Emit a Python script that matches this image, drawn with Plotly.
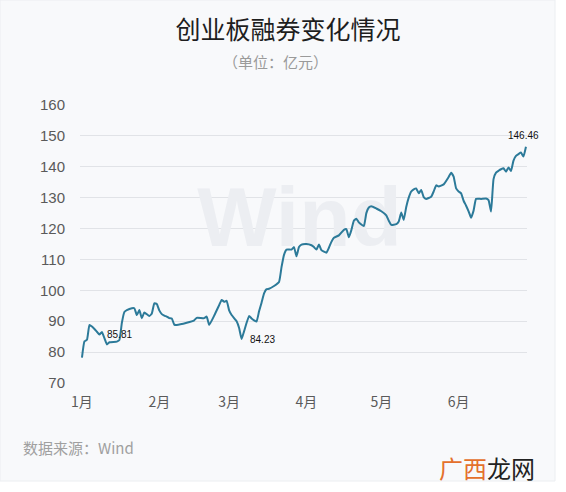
import plotly.graph_objects as go
import pandas as pd

# ---- data ----
dates = [
    "2021-01-01", "2021-01-02", "2021-01-03", "2021-01-04", "2021-01-05", "2021-01-06",
    "2021-01-07", "2021-01-08", "2021-01-09", "2021-01-10", "2021-01-11", "2021-01-12",
    "2021-01-15", "2021-01-16", "2021-01-17", "2021-01-18", "2021-01-19", "2021-01-21",
    "2021-01-22", "2021-01-23", "2021-01-24", "2021-01-25", "2021-01-26", "2021-01-28",
    "2021-01-29", "2021-01-30", "2021-01-31",
    "2021-02-01", "2021-02-02", "2021-02-03", "2021-02-04", "2021-02-05", "2021-02-06",
    "2021-02-07", "2021-02-08", "2021-02-12", "2021-02-15", "2021-02-16", "2021-02-19",
    "2021-02-20", "2021-02-21", "2021-02-23", "2021-02-25", "2021-02-26", "2021-02-27",
    "2021-02-28",
    "2021-03-01", "2021-03-02", "2021-03-04", "2021-03-05", "2021-03-06", "2021-03-07",
    "2021-03-09", "2021-03-10", "2021-03-11", "2021-03-12", "2021-03-13", "2021-03-14",
    "2021-03-15", "2021-03-16", "2021-03-17", "2021-03-19", "2021-03-21", "2021-03-22",
    "2021-03-23", "2021-03-24", "2021-03-26", "2021-03-27", "2021-03-28", "2021-03-29",
    "2021-03-30",
    "2021-04-01", "2021-04-03", "2021-04-04", "2021-04-05", "2021-04-06", "2021-04-07",
    "2021-04-08", "2021-04-09", "2021-04-10", "2021-04-11", "2021-04-12", "2021-04-14",
    "2021-04-16", "2021-04-17", "2021-04-18", "2021-04-19", "2021-04-20", "2021-04-21",
    "2021-04-22", "2021-04-24", "2021-04-25", "2021-04-26", "2021-04-27", "2021-04-29",
    "2021-05-01", "2021-05-03", "2021-05-04", "2021-05-05", "2021-05-07", "2021-05-08",
    "2021-05-09", "2021-05-10", "2021-05-11", "2021-05-12", "2021-05-13", "2021-05-14",
    "2021-05-15", "2021-05-16", "2021-05-17", "2021-05-18", "2021-05-19", "2021-05-21",
    "2021-05-22", "2021-05-23", "2021-05-24", "2021-05-26", "2021-05-28", "2021-05-29",
    "2021-05-30", "2021-05-31",
    "2021-06-01", "2021-06-02", "2021-06-03", "2021-06-04", "2021-06-05", "2021-06-06",
    "2021-06-07", "2021-06-08", "2021-06-10", "2021-06-12", "2021-06-13", "2021-06-14",
    "2021-06-15", "2021-06-16", "2021-06-17", "2021-06-18", "2021-06-19", "2021-06-20",
    "2021-06-21", "2021-06-22", "2021-06-23", "2021-06-24", "2021-06-25", "2021-06-26",
    "2021-06-27", "2021-06-28",
]
values = [
    78.2, 83.5, 84.0, 88.8, 88.3, 87.5,
    86.6, 85.7, 86.5, 84.5, 82.5, 83.2,
    83.4, 83.9, 89.5, 93.0, 93.6, 94.2,
    94.2, 92.0, 93.6, 91.0, 92.8, 91.7,
    92.5, 95.8, 95.6,
    93.5, 92.3, 91.8, 91.5, 91.0, 90.9,
    88.9, 88.8, 89.5, 90.3, 91.1, 91.0,
    91.5, 88.8, 91.8, 95.2, 96.9, 96.3,
    96.6,
    93.5, 92.0, 90.0, 87.8, 84.23, 86.8,
    91.7, 90.9, 90.3, 89.9, 93.2, 96.0,
    99.0, 100.4, 100.5, 101.4, 102.7, 107.5,
    111.5, 113.2, 113.2, 114.0, 111.0, 114.0,
    114.8,
    115.0, 114.6, 114.0, 113.2, 114.8, 113.0,
    112.5, 112.2, 113.8, 115.7, 117.0, 117.8,
    119.6, 119.8, 117.2, 119.5, 122.5, 123.2,
    122.0, 120.8, 125.0, 126.8, 127.2, 126.5,
    125.6, 124.3, 122.5, 121.2, 121.4, 122.3,
    125.2, 122.8, 127.0, 130.0, 132.0, 132.7,
    133.0, 131.4, 132.5, 130.2, 129.6, 130.3,
    132.0, 134.0, 133.6, 134.3, 136.7, 138.1,
    136.8, 133.0,
    132.0, 131.4, 129.0, 127.4, 125.6, 123.5,
    125.8, 129.6, 129.6, 129.7, 129.2, 125.5,
    136.0, 138.1, 138.7, 139.2, 139.5, 138.4,
    139.8, 138.6, 142.0, 143.5, 144.1, 144.6,
    143.3, 146.46,
]
month_ticks = ["2021-01-01", "2021-02-01", "2021-03-01", "2021-04-01", "2021-05-01", "2021-06-01"]
month_labels = ["1月", "2月", "3月", "4月", "5月", "6月"]
y_ticks = [70, 80, 90, 100, 110, 120, 130, 140, 150, 160]

# labelled points: (date, value, text)
label_points = [("2021-01-16", 83.9, "85.81"), ("2021-03-06", 84.23, "84.23"), ("2021-06-28", 146.46, "146.46")]

title_text = "创业板融券变化情况"
subtitle_text = "（单位：亿元）"
source_text = "数据来源：Wind"

LINE_COLOR = "#2c7a99"
CJK = "Noto Sans CJK SC, Liberation Sans, sans-serif"
LATIN = "Liberation Sans, Arial, sans-serif"

d = pd.to_datetime(dates)
x_start = d.min() - pd.Timedelta(hours=19)
x_end = d.max() + pd.Timedelta(hours=10)

fig = go.Figure()

# faint "Wind" watermark drawn under the line
wm_x = d.min() + (d.max() - d.min()) * 0.49
fig.add_trace(go.Scatter(
    x=[wm_x], y=[121.2], mode="text", text=["Wind"],
    textfont=dict(family=LATIN, size=84, color="#eceef2", weight="bold"),
    hoverinfo="skip", showlegend=False,
))

fig.add_trace(go.Scatter(
    x=d, y=values, mode="lines",
    line=dict(color=LINE_COLOR, width=2, shape="spline", smoothing=0.4),
    hoverinfo="skip", showlegend=False,
))

shifts = {"85.81": (0, 6), "84.23": (21, 0), "146.46": (-2, 11)}
for dt, v, t in label_points:
    xs, ys = shifts[t]
    fig.add_annotation(x=dt, y=v, text=t, showarrow=False,
                       xshift=xs, yshift=ys,
                       font=dict(family=LATIN, size=10, color="#111111"))

# card background
fig.add_shape(type="rect", xref="paper", yref="paper",
              x0=-80 / 447, x1=475 / 447, y0=(383 - 481) / 278, y1=383 / 278,
              fillcolor="#f8f9fb", line=dict(color="#eceef1", width=1), layer="below")

fig.add_annotation(xref="paper", yref="paper", x=(275 - 80) / 447, y=(383 - 61) / 278,
                   text=subtitle_text, showarrow=False, xanchor="center", yanchor="middle",
                   font=dict(family=CJK, size=15, color="#9a9a9a"))
fig.add_annotation(xref="paper", yref="paper", x=(21 - 80) / 447, y=(383 - 447) / 278,
                   text=source_text, showarrow=False, xanchor="left", yanchor="middle",
                   font=dict(family=CJK, size=15, color="#a0a0a0"))
fig.add_annotation(xref="paper", yref="paper", x=(437 - 80) / 447, y=(383 - 467) / 278,
                   text="<span style='color:#e4702c'>广西</span><span style='color:#222222'>龙网</span>",
                   showarrow=False, xanchor="left", yanchor="middle",
                   font=dict(family=CJK, size=24, color="#222222"))

fig.update_layout(
    width=566, height=492,
    margin=dict(l=80, r=39, t=105, b=109),
    paper_bgcolor="#ffffff",
    plot_bgcolor="rgba(0,0,0,0)",
    title=dict(text=title_text, x=288 / 566, xanchor="center", y=1 - 30 / 492, yanchor="middle",
               font=dict(family=CJK, size=25, color="#1e1e1e")),
    hovermode=False,
    xaxis=dict(type="date", range=[x_start, x_end], tickvals=month_ticks, ticktext=month_labels,
               showgrid=False, zeroline=False, showline=False, ticks="",
               tickfont=dict(family=CJK, size=14, color="#5a5a5a"), ticklabelstandoff=9),
    yaxis=dict(range=[70, 160], tickvals=y_ticks, showgrid=True, gridcolor="#e1e3e7", gridwidth=1,
               zeroline=False, showline=False, ticks="",
               tickfont=dict(family=LATIN, size=15, color="#5a5a5a"), ticklabelstandoff=14),
)

fig.write_html("out.html")
